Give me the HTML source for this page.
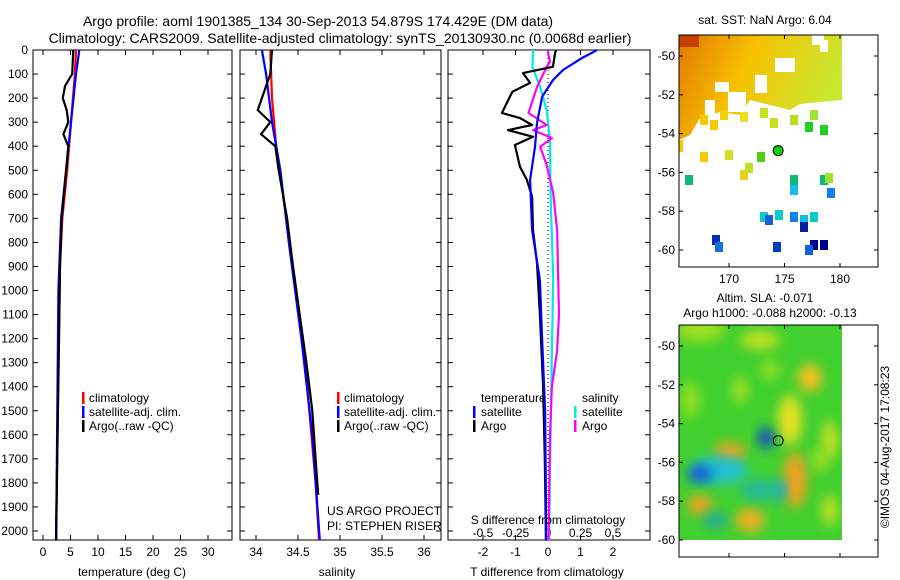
<!DOCTYPE html>
<html><head><meta charset="utf-8">
<style>
html,body{margin:0;padding:0;background:#fff;}
svg{display:block;font-family:"Liberation Sans",sans-serif;}
</style></head>
<body>
<svg id="c" width="900" height="580" viewBox="0 0 900 580">
<defs>
<filter id="blur" x="-50%" y="-50%" width="200%" height="200%"><feGaussianBlur stdDeviation="6"/></filter>
<clipPath id="m2clip"><rect x="679" y="325" width="163" height="215"/></clipPath>
<linearGradient id="sstg" x1="0" y1="0" x2="1" y2="0.3">
<stop offset="0" stop-color="#e07800"/><stop offset="0.45" stop-color="#f8c000"/><stop offset="1" stop-color="#c8e830"/></linearGradient>
</defs>
<text x="318" y="26" font-size="14" text-anchor="middle">Argo profile: aoml 1901385_134 30-Sep-2013 54.879S 174.429E (DM data)</text>
<text x="340" y="43" font-size="14" text-anchor="middle">Climatology: CARS2009. Satellite-adjusted climatology: synTS_20130930.nc (0.0068d earlier)</text>
<g id="plots"></g>
</svg>
<script>
// ---- data ----
const depthTicks = [0,100,200,300,400,500,600,700,800,900,1000,1100,1200,1300,1400,1500,1600,1700,1800,1900,2000];
const tempTicks = [0,5,10,15,20,25,30];
const salTicks = [34,34.5,35,35.5,36];
const tdiffTicks = [-2,-1,0,1,2];
const sdiffTicks = [-0.5,-0.25,0,0.25,0.5];
const sdiffLabels = ["-0.5","-0.25","0","0.25","0.5"];

const tClimD = [0,100,300,500,700,900,1200,1500,2000,2040];
const tClimV = [6.0,5.8,5.1,4.4,3.5,3.1,2.9,2.7,2.4,2.4];
const tSatD = [0,100,300,500,700,1000,1500,2000,2040];
const tSatV = [6.6,6.0,5.1,4.2,3.3,2.8,2.6,2.4,2.35];
const tArgoD = [0,100,150,200,250,300,350,400,500,700,900,1200,1500,2000,2040];
const tArgoV = [5.5,5.3,4.0,3.6,4.3,4.6,3.7,4.6,4.2,3.4,3.1,2.9,2.7,2.4,2.4];

const sClimD = [0,200,400,600,1000,1400,1800,2040];
const sClimV = [34.17,34.19,34.24,34.32,34.48,34.61,34.71,34.75];
const sSatD = [0,100,300,500,800,1200,1600,2040];
const sSatV = [34.07,34.12,34.19,34.29,34.39,34.54,34.67,34.76];
const sArgoD = [0,100,200,250,300,350,400,500,700,900,1100,1300,1500,1700,1850];
const sArgoV = [34.19,34.17,34.07,34.02,34.17,34.06,34.23,34.27,34.37,34.44,34.52,34.6,34.67,34.71,34.74];

const dTArgoD = [0,12,70,96,137,174,262,283,312,333,361,395,486,540,610,748,886,1100,1400,1700,2040];
const dTArgoV = [0.25,0.22,0.15,-0.77,-0.55,-1.1,-1.42,-0.86,-0.49,-1.23,-0.46,-1.02,-0.86,-0.65,-0.49,-0.46,-0.34,-0.25,-0.15,-0.1,-0.06];
const dTSatD = [0,12,33,83,125,195,304,403,540,748,956,1200,1500,1900,2040];
const dTSatV = [1.5,1.35,1.05,0.46,0.15,-0.18,-0.34,-0.4,-0.55,-0.49,-0.25,-0.18,-0.09,-0.06,-0.06];
const dSArgoD = [0,12,50,70,154,262,312,333,366,403,478,595,748,1100,1250,1400,1600,1900,2040];
const dSArgoV = [0,0,0.015,-0.01,-0.085,-0.15,-0.01,-0.115,0.03,-0.06,-0.01,0.04,0.07,0.085,0.07,0.03,0.015,0.008,0.005];
const dSSatD = [0,12,70,154,250,374,610,944,1400,2040];
const dSSatV = [-0.11,-0.115,-0.12,-0.06,-0.01,0.015,0.02,0.04,0.025,0.008];

const latTicks = [-50,-52,-54,-56,-58,-60];
const lonTicks = [170,175,180];

// ---- helpers ----
const NS="http://www.w3.org/2000/svg";
const G=document.getElementById('plots');
function mk(tag,attrs,parent){const e=document.createElementNS(NS,tag);for(const k in attrs)e.setAttribute(k,attrs[k]);(parent||G).appendChild(e);return e;}
const yD = d => 50 + d*0.2405;
const TOP=50, BOT=540;

function panel(x0,x1,name){
  const r=mk('rect',{x:x0,y:TOP,width:x1-x0,height:BOT-TOP,fill:'none',stroke:'#000','stroke-width':1});
  
  
  depthTicks.forEach(d=>{
    mk('line',{x1:x0,x2:x0+5,y1:yD(d),y2:yD(d),stroke:'#000'});
    mk('line',{x1:x1,x2:x1-5,y1:yD(d),y2:yD(d),stroke:'#000'});
  });
}
function xticks(ticks,fx,labels,ly,name){
  ticks.forEach((t,i)=>{
    const x=fx(t);
    mk('line',{x1:x,x2:x,y1:TOP,y2:TOP+5,stroke:'#000'});
    mk('line',{x1:x,x2:x,y1:BOT,y2:BOT-5,stroke:'#000'});
    const tx=mk('text',{x:x,y:ly,'font-size':12,'text-anchor':'middle'});
    tx.textContent=labels?labels[i]:String(t);
    
    
  });
}
function line(D,V,fx,color,name,w){
  const p=D.map((d,i)=>(i?'L':'M')+fx(V[i]).toFixed(1)+','+yD(d).toFixed(1)).join('');
  const e=mk('path',{d:p,fill:'none',stroke:color,'stroke-width':w||2.2,'stroke-linejoin':'round'});
  
  
}
function txt(x,y,s,name,opts){
  const e=mk('text',Object.assign({x:x,y:y,'font-size':12},opts||{}));
  e.textContent=s;
  
  
  return e;
}
function legBar(x,y,c){mk('rect',{x:x,y:y-10,width:2.5,height:12,fill:c});}

// ---- panel 1: temperature ----
const fT = v => 43 + v*5.5;
panel(33,232,'temperature-panel');
depthTicks.forEach(d=>txt(28,yD(d)+4,String(d),'depth-tick-label',{'text-anchor':'end'}));
xticks(tempTicks,fT,null,556,'temperature-tick-label');
line(tClimD,tClimV,fT,'#ff0000','temperature-climatology-line');
line(tSatD,tSatV,fT,'#0000ff','temperature-satellite-line');
line(tArgoD,tArgoV,fT,'#000000','temperature-argo-line');
txt(132,576,'temperature (deg C)','temperature-axis-title',{'text-anchor':'middle'});
legBar(82,402,'#f00');txt(89,402,'climatology','legend-climatology');
legBar(82,416,'#00f');txt(89,416,'satellite-adj. clim.','legend-satellite');
legBar(82,430,'#000');txt(89,430,'Argo(..raw -QC)','legend-argo');

// ---- panel 2: salinity ----
const fS = v => 256 + (v-34)*84;
panel(240,441,'salinity-panel');
xticks(salTicks,fS,null,556,'salinity-tick-label');
line(sClimD,sClimV,fS,'#ff0000','salinity-climatology-line');
line(sSatD,sSatV,fS,'#0000ff','salinity-satellite-line');
line(sArgoD,sArgoV,fS,'#000000','salinity-argo-line');
txt(337,576,'salinity','salinity-axis-title',{'text-anchor':'middle'});
legBar(337,402,'#f00');txt(344,402,'climatology','legend2-climatology');
legBar(337,416,'#00f');txt(344,416,'satellite-adj. clim.','legend2-satellite');
legBar(337,430,'#000');txt(344,430,'Argo(..raw -QC)','legend2-argo');
txt(327,515,'US ARGO PROJECT','project-label');
txt(327,530,'PI: STEPHEN RISER','pi-label');

// ---- panel 3: differences ----
const fdT = v => 548 + v*32.5;
const fdS = v => 548 + v*130;
panel(448,650,'difference-panel');
xticks(tdiffTicks,fdT,null,556,'tdiff-tick-label');
sdiffTicks.forEach((t,i)=>txt(fdS(t),537,sdiffLabels[i],'sdiff-tick-label',{'text-anchor':'middle'}));
mk('line',{x1:548,x2:548,y1:TOP,y2:BOT,stroke:'#000','stroke-dasharray':'1,3'});
line(dSSatD,dSSatV,fdS,'#00e8e8','sdiff-satellite-line');
line(dSArgoD,dSArgoV,fdS,'#ff00ff','sdiff-argo-line');
line(dTArgoD,dTArgoV,fdT,'#000000','tdiff-argo-line');
line(dTSatD,dTSatV,fdT,'#0000ff','tdiff-satellite-line');
txt(547,576,'T difference from climatology','tdiff-axis-title',{'text-anchor':'middle'});
txt(548,524,'S difference from climatology','sdiff-axis-title',{'text-anchor':'middle'});
txt(481,402,'temperature','legend3-temperature');
txt(582,402,'salinity','legend3-salinity');
legBar(473,416,'#00f');txt(481,416,'satellite','legend3-t-satellite');
legBar(473,430,'#000');txt(481,430,'Argo','legend3-t-argo');
legBar(574,416,'#0ee');txt(582,416,'satellite','legend3-s-satellite');
legBar(574,430,'#f0f');txt(582,430,'Argo','legend3-s-argo');

// ---- maps ----
const fLon = v => 729 + (v-170)*11.1;
function mapAxes(yTop,yBot,lat50,name,showLon){
  const r=mk('rect',{x:679,y:yTop,width:199,height:yBot-yTop,fill:'none',stroke:'#000'});
  
  
  const fLat = v => lat50 + (-50-v)*19.4;
  latTicks.forEach(l=>{
    mk('line',{x1:679,x2:683,y1:fLat(l),y2:fLat(l),stroke:'#000'});
    mk('line',{x1:878,x2:874,y1:fLat(l),y2:fLat(l),stroke:'#000'});
    txt(675,fLat(l)+4,String(l),'lat-tick-label',{'text-anchor':'end'});
  });
  lonTicks.forEach(l=>{
    mk('line',{x1:fLon(l),x2:fLon(l),y1:yTop,y2:yTop+4,stroke:'#000'});
    mk('line',{x1:fLon(l),x2:fLon(l),y1:yBot,y2:yBot-4,stroke:'#000'});
    if(showLon) txt(fLon(l),yBot+16,String(l),'lon-tick-label',{'text-anchor':'middle'});
  });
  return fLat;
}
// map 1 SST
const m1=mk('g',{});


mk('path',{d:'M679,35 L842,35 L842,100 L800,104 L790,110 L770,105 L750,100 L740,115 L720,112 L700,118 L690,135 L679,140 Z',fill:'url(#sstg)'},m1);
mk('rect',{x:679,y:35,width:20,height:12,fill:'#c84000'},m1);
[[812,35,12,10],[775,58,20,14],[755,75,12,18],[715,82,14,10],[705,100,10,15],[728,92,18,20],[820,40,8,12]].forEach(h=>mk('rect',{x:h[0],y:h[1],width:h[2],height:h[3],fill:'#fff'},m1));
const sq=[[700,115,'#f8c800'],[710,120,'#f8c800'],[720,110,'#f0d000'],[740,112,'#e8e020'],[760,108,'#c8e020'],[770,118,'#c8e020'],[790,115,'#b8e020'],[810,110,'#a0e030'],[805,122,'#20d020'],[820,125,'#20d020'],[725,150,'#d0e020'],[700,152,'#f8c800'],[757,152,'#50d010'],[745,163,'#c0e020'],[740,170,'#e8d020'],[790,175,'#10b878'],[820,175,'#10b878'],[825,173,'#a0e030'],[790,185,'#10c0e8'],[827,188,'#1080f0'],[775,210,'#10c8c8'],[790,212,'#1080f0'],[760,212,'#10c8c8'],[800,215,'#10c0e0'],[800,222,'#0020a0'],[810,212,'#10c8c8'],[765,215,'#1060e0'],[712,235,'#0030b0'],[715,242,'#1070e0'],[773,242,'#0040c0'],[810,240,'#000090'],[820,240,'#000090'],[805,245,'#1060e0'],[685,175,'#10b878']];
sq.forEach(s=>mk('rect',{x:s[0],y:s[1],width:8,height:10,fill:s[2]},m1));
mk('rect',{x:679,y:140,width:4,height:12,fill:'#f8c800'},m1);
const fLat1 = mapAxes(35,267,56,'sst-map-frame',true);
mk('circle',{cx:fLon(174.429),cy:fLat1(-54.879),r:5,fill:'#10d010',stroke:'#000'},m1);
txt(765,24,'sat. SST: NaN Argo: 6.04','sst-map-title',{'text-anchor':'middle'});

// map 2 SLA
const m2=mk('g',{'clip-path':'url(#m2clip)'});


mk('rect',{x:679,y:325,width:163,height:215,fill:'#40d030'},m2);
const blobs=[[810,378,12,14,'#f8c020'],[790,420,12,25,'#e8e020'],[730,452,16,10,'#f0a020'],[795,480,12,28,'#f0a020'],[700,505,13,10,'#f0a020'],[750,520,15,12,'#f0b020'],[720,470,28,14,'#20c0d0'],[700,474,12,8,'#1050e0'],[766,438,8,10,'#1040d0'],[780,490,6,10,'#20a0e0'],[760,490,20,10,'#20b8a0'],[715,520,12,8,'#20a8a0'],[700,330,25,12,'#a0e020'],[760,340,20,10,'#c0e020'],[830,440,8,20,'#c8e020'],[830,510,8,15,'#c8e020'],[690,400,10,18,'#90e020'],[740,390,8,14,'#a0e020'],[770,370,10,10,'#90e020'],[820,460,8,12,'#a0e020']];
blobs.forEach(b=>mk('ellipse',{cx:b[0],cy:b[1],rx:b[2],ry:b[3],fill:b[4],filter:'url(#blur)'},m2));
const fLat2 = mapAxes(325,557,346,'sla-map-frame',false);
mk('circle',{cx:fLon(174.429),cy:fLat2(-54.879),r:5,fill:'none',stroke:'#000'});
txt(765,302,'Altim. SLA: -0.071','sla-map-title',{'text-anchor':'middle'});
txt(770,317,'Argo h1000: -0.088 h2000: -0.13','sla-map-subtitle',{'text-anchor':'middle'});
const cr=txt(0,0,'©IMOS 04-Aug-2017 17:08:23','imos-credit',{'text-anchor':'middle',transform:'translate(889,447) rotate(-90)'});
</script>
</body></html>
